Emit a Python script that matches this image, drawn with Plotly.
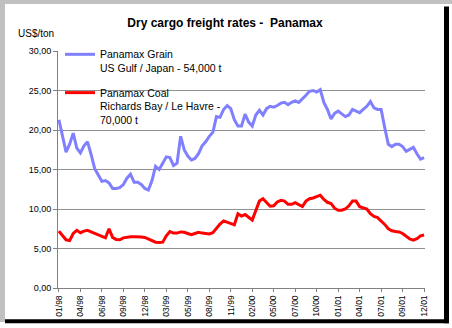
import plotly.graph_objects as go

# ---- data (bi-weekly readings, week index 0..204) ----
week_step = 2
grain = [21.3, 19.2, 17.2, 18.2, 19.6, 17.7, 17.1, 18.0, 18.5, 16.9,
         15.1, 14.3, 13.5, 13.6, 13.3, 12.6, 12.6, 12.7, 13.1, 13.9,
         14.4, 13.4, 13.4, 13.1, 12.6, 12.4, 13.6, 15.4, 15.0, 15.8,
         16.6, 16.5, 15.5, 15.8, 19.2, 17.5, 16.7, 16.2, 16.4, 17.0,
         18.0, 18.5, 19.2, 19.7, 21.7, 21.6, 22.6, 23.1, 22.7, 21.3,
         20.5, 20.5, 22.0, 21.0, 20.5, 21.9, 22.5, 21.9, 22.7, 23.0,
         22.9, 23.1, 23.4, 23.5, 23.2, 23.5, 23.7, 23.5, 23.9, 24.4,
         24.9, 25.0, 24.8, 25.1, 23.5, 22.6, 21.4, 22.1, 22.4, 22.1,
         21.7, 21.9, 22.6, 22.4, 22.2, 22.6, 23.0, 23.6, 22.8, 22.6,
         22.6, 20.3, 18.2, 17.9, 18.2, 18.2, 17.9, 17.3, 17.6, 17.8,
         17.0, 16.3, 16.5]
coal = [7.2, 6.7, 6.1, 6.0, 6.9, 7.3, 7.0, 7.2, 7.3, 7.1,
        6.9, 6.7, 6.5, 6.35, 7.5, 6.4, 6.15, 6.1, 6.35, 6.45,
        6.5, 6.5, 6.5, 6.45, 6.4, 6.2, 6.0, 5.8, 5.75, 5.8,
        6.6, 7.15, 6.95, 6.95, 7.1, 7.05, 6.9, 6.75, 6.9, 7.05,
        6.95, 6.9, 6.85, 7.0, 7.6, 8.1, 8.5, 8.3, 8.2, 8.0,
        9.4, 9.1, 9.3, 8.9, 8.6, 9.8, 11.0, 11.3, 10.8, 10.35,
        10.4, 10.9, 11.1, 11.0, 10.6, 10.6, 10.8, 10.5, 10.3, 11.0,
        11.3, 11.4, 11.6, 11.75, 11.2, 10.85, 10.7, 10.1, 9.85, 9.85,
        10.0, 10.4, 11.0, 11.0, 10.3, 10.15, 10.0, 9.4, 9.05, 8.9,
        8.5, 8.05, 7.5, 7.25, 7.15, 7.1, 6.9, 6.5, 6.2, 6.05,
        6.25, 6.6, 6.7]
tick_labels = ["01/98", "04/98", "06/98", "09/98", "12/98", "03/99", "05/99",
               "08/99", "11/99", "02/00", "05/00", "07/00", "10/00", "01/01",
               "04/01", "07/01", "09/01", "12/01"]
tick_step = 12
grain_name = "Panamax Grain<br>US Gulf / Japan - 54,000 t"
coal_name = "Panamax Coal<br>Richards Bay / Le Havre -<br>70,000 t"

weeks = [i * week_step for i in range(len(grain))]
tick_vals = [i * tick_step for i in range(len(tick_labels))]

# ---- geometry ----
W, H = 452, 328
L, R, T, B = 58, 27, 51, 40
PW, PH = W - L - R, H - T - B


def px(x):
    return (x - L) / PW


def py(y):
    return (H - B - y) / PH


FONT = "Liberation Sans, Arial, sans-serif"

fig = go.Figure()
fig.add_trace(go.Scatter(x=weeks, y=grain, mode="lines", name=grain_name,
                         legendgroup="g", line=dict(color="#8080ff", width=3)))
fig.add_trace(go.Scatter(x=weeks, y=coal, mode="lines", name=coal_name,
                         legendgroup="c", line=dict(color="#ff0000", width=3)))

shapes = [
    # legend background hiding the gridlines (between grid and traces)
    dict(type="rect", xref="paper", yref="paper", x0=px(59), x1=px(232), y0=py(44), y1=py(127),
         fillcolor="white", line=dict(width=0), layer="between"),
    dict(type="rect", xref="paper", yref="paper", x0=px(0), x1=px(452), y0=py(0), y1=py(4),
         fillcolor="#c0c0c0", line=dict(width=0)),
    dict(type="rect", xref="paper", yref="paper", x0=px(0), x1=px(5), y0=py(0), y1=py(322),
         fillcolor="#c0c0c0", line=dict(width=0)),
    dict(type="rect", xref="paper", yref="paper", x0=px(444), x1=px(449), y0=py(6.5), y1=py(323.3),
         fillcolor="#000000", line=dict(width=0)),
    dict(type="rect", xref="paper", yref="paper", x0=px(5), x1=px(449), y0=py(319.3), y1=py(323.3),
         fillcolor="#000000", line=dict(width=0)),
]

fig.update_layout(
    width=W, height=H,
    margin=dict(l=L, r=R, t=T, b=B, autoexpand=False),
    paper_bgcolor="white", plot_bgcolor="white",
    separators=", ",
    font=dict(family=FONT, size=10, color="black"),
    title=dict(text="Dry cargo freight rates -\u00a0 Panamax", x=225 / W, xref="container",
               xanchor="center", y=1 - 22.5 / H, yref="container", yanchor="middle",
               font=dict(family=FONT, size=12, color="black", weight="bold")),
    showlegend=True,
    legend=dict(x=px(60), y=py(41), xanchor="left", yanchor="top", bgcolor="rgba(0,0,0,0)",
                borderwidth=0, font=dict(family=FONT, size=10.5, color="black"),
                valign="top", traceorder="grouped", tracegroupgap=8),
    xaxis=dict(range=[-0.5, 204.5], tickmode="array", tickvals=tick_vals, ticktext=tick_labels,
               tickangle=-90, ticks="outside", ticklen=3, tickcolor="#808080",
               showline=True, linecolor="#808080", linewidth=1, showgrid=False, zeroline=False,
               tickfont=dict(family="Liberation Sans Narrow, Liberation Sans, Arial", size=8.5)),
    yaxis=dict(range=[0, 30], tickmode="linear", tick0=0, dtick=5, tickformat=".2f",
               ticks="outside", ticklen=4, tickcolor="#808080",
               showline=True, linecolor="#808080", linewidth=1,
               showgrid=True, gridcolor="#909090", gridwidth=1, zeroline=False,
               tickfont=dict(family=FONT, size=9)),
    shapes=shapes,
    annotations=[dict(text="US$/ton", xref="paper", yref="paper", x=px(15.5), y=py(33),
                      xanchor="left", yanchor="middle", showarrow=False,
                      font=dict(family=FONT, size=10, color="black"))],
)

fig.write_html("out.html")
